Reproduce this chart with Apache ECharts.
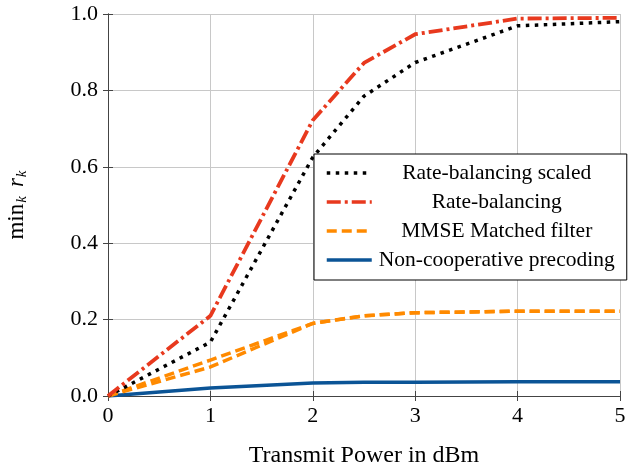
<!DOCTYPE html>
<html lang="en">
<head>
    <meta charset="UTF-8">
    <title>min rate vs transmit power</title>
    <script src="https://cdn.jsdelivr.net/npm/echarts@6/dist/echarts.min.js"></script>
    <style>
        body { margin: 0; background: #fff; }
    </style>
</head>
<body>
<div id="main" style="width: 629px;height:470px;"></div>
<script type="text/javascript">
    // data
    var xPower = [0, 1, 2, 2.5, 3, 4, 5];
    var rateBalScaled = [0, 0.141, 0.625, 0.785, 0.873, 0.969, 0.98];
    var rateBal = [0, 0.21, 0.722, 0.872, 0.947, 0.988, 0.99];
    var mmse = [0, 0.094, 0.19, 0.21, 0.218, 0.222, 0.222];
    var matchedFilter = [0, 0.076, 0.19, 0.21, 0.218, 0.222, 0.222];
    var nonCoop = [0, 0.021, 0.034, 0.036, 0.036, 0.037, 0.037];
    var xTicks = [0, 1, 2, 3, 4, 5];
    var yTicks = [0, 0.2, 0.4, 0.6, 0.8, 1.0];

    var font = 'Liberation Serif';

    function pairs(ys) {
        var out = [];
        for (var i = 0; i < xPower.length; i++) {
            out.push([xPower[i], ys[i]]);
        }
        return out;
    }

    function lineSeries(name, ys, color, dash, width, z) {
        return {
            name: name,
            type: 'line',
            data: pairs(ys),
            symbol: 'none',
            z: z,
            lineStyle: { color: color, width: width, type: dash, cap: 'butt', join: 'round' },
            itemStyle: { color: color }
        };
    }

    var myChart = echarts.init(document.getElementById('main'));
    myChart.setOption({
        animation: false,
        grid: { left: 108, right: 9, top: 14, bottom: 74, containLabel: false, outerBoundsMode: 'none' },
        legend: {
            orient: 'vertical',
            left: 314,
            top: 154,
            backgroundColor: '#fff',
            borderColor: '#000',
            borderWidth: 1,
            borderRadius: 0,
            padding: [8, 10, 9, 11],
            itemWidth: 45,
            itemHeight: 12,
            itemGap: 7,
            itemStyle: { opacity: 0 },
            lineStyle: { width: 3.5 },
            data: ['Rate-balancing scaled', 'Rate-balancing', 'MMSE Matched filter', 'Non-cooperative precoding'],
            formatter: function (name) { return '{c|' + name + '}'; },
            textStyle: {
                fontFamily: font,
                fontSize: 21.5,
                lineHeight: 22,
                color: '#000',
                rich: { c: { width: 240, align: 'center', fontFamily: font, fontSize: 21.5, lineHeight: 22 } }
            },
            z: 10
        },
        xAxis: [{
            type: 'value',
            min: 0, max: 5, interval: 1,
            name: 'Transmit Power in dBm',
            nameLocation: 'middle',
            nameGap: 48,
            nameTextStyle: { fontFamily: font, fontSize: 24, color: '#000' },
            axisLine: { show: true, lineStyle: { color: '#444', width: 1 } },
            axisTick: { show: true, inside: true, length: 5, lineStyle: { color: '#444' } },
            axisLabel: {
                fontFamily: font, fontSize: 22, color: '#000', margin: 9,
                formatter: function (v) { return xTicks.indexOf(v) >= 0 ? String(v) : ''; }
            },
            splitLine: { show: true, lineStyle: { color: '#c8c8c8', width: 1 } }
        }, {
            type: 'value', position: 'top',
            min: 0, max: 5, interval: 1,
            axisLine: { show: true, lineStyle: { color: '#444', width: 1 } },
            axisTick: { show: true, inside: true, length: 5, lineStyle: { color: '#444' } },
            axisLabel: { show: false },
            splitLine: { show: false }
        }],
        yAxis: [{
            type: 'value',
            min: 0, max: 1, interval: 0.2,
            name: '{n|min}{s|k}{r|r}{s|k}',
            nameLocation: 'middle',
            nameGap: 80,
            nameRotate: 90,
            nameTextStyle: {
                color: '#000',
                rich: {
                    n: { fontFamily: font, fontSize: 23, color: '#000', lineHeight: 26, verticalAlign: 'bottom' },
                    r: { fontFamily: font, fontSize: 23, fontStyle: 'italic', color: '#000', lineHeight: 26, verticalAlign: 'bottom', padding: [0, 0, 0, 9] },
                    s: { fontFamily: font, fontSize: 15, fontStyle: 'italic', color: '#000', lineHeight: 26, verticalAlign: 'bottom', padding: [0, 0, -2, 1] }
                }
            },
            axisLine: { show: true, lineStyle: { color: '#444', width: 1 } },
            axisTick: { show: true, inside: true, length: 5, lineStyle: { color: '#444' } },
            axisLabel: {
                fontFamily: font, fontSize: 22, color: '#000', margin: 10,
                formatter: function (v) { return v.toFixed(1); }
            },
            splitLine: { show: true, lineStyle: { color: '#c8c8c8', width: 1 } }
        }, {
            type: 'value', position: 'right',
            min: 0, max: 1, interval: 0.2,
            axisLine: { show: true, lineStyle: { color: '#444', width: 1 } },
            axisTick: { show: true, inside: true, length: 5, lineStyle: { color: '#444' } },
            axisLabel: { show: false },
            splitLine: { show: false }
        }],
        series: [
            lineSeries('Rate-balancing scaled', rateBalScaled, '#000000', [3.5, 5.5], 3.5, 4),
            lineSeries('Rate-balancing', rateBal, '#e8391e', [14, 4, 3, 4], 3.8, 5),
            lineSeries('MMSE Matched filter', mmse, '#ff8a00', [10, 5], 3.5, 3),
            lineSeries('MMSE Matched filter', matchedFilter, '#ff8a00', [10, 5], 3.5, 3),
            lineSeries('Non-cooperative precoding', nonCoop, '#0b5496', 'solid', 3.5, 2)
        ]
    });
</script>
</body>
</html>
